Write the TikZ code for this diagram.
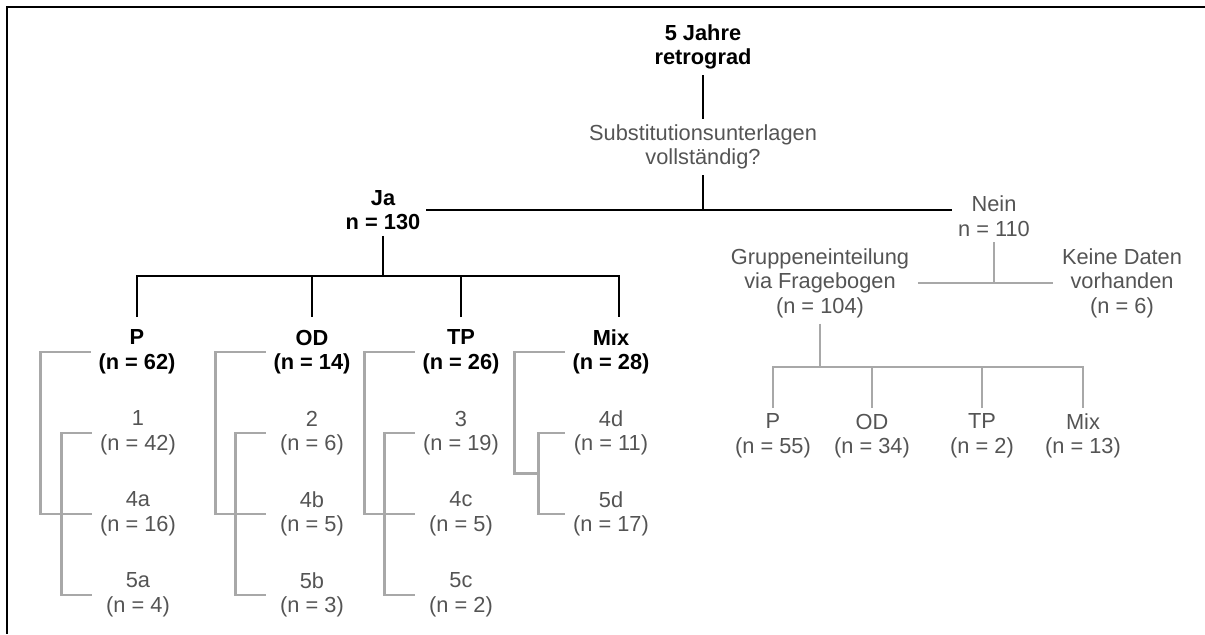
\documentclass[tikz,border=0pt]{standalone}
\usepackage{fontspec}
\setmainfont{Liberation Sans}
\usepackage{xcolor}
\usepackage{tikz}
\usetikzlibrary{positioning, calc}
\definecolor{textgray}{gray}{0.33}
\definecolor{linegray}{gray}{0.66}
\newcommand{\diagfont}{\fontsize{15.5pt}{17.5pt}\selectfont}

\begin{document}
\begin{tikzpicture}[
    x=0.025cm, y=-0.025cm,
    every node/.style={
        align=center,
        inner sep=4pt,
        font=\diagfont
    },
    boldtext/.style={
        font=\diagfont\bfseries,
        text=black
    },
    greytext/.style={text=textgray},
    colhead/.style={boldtext, minimum width=2.3cm, inner ysep=9pt},
    subnode/.style={greytext, minimum width=2.3cm},
    mainline/.style={line width=2pt, black},
    subline/.style={line width=2pt, linegray}
]
\useasboundingbox (0,0) rectangle (1205,634);

% Frame
\draw[line width=2pt] (1205,7) -- (7,7) -- (7,634);

% Top
\node[boldtext] (root) at (703,47) {5 Jahre\\retrograd};
\node[greytext] (question) at (703,147) {Substitutionsunterlagen\\vollständig?};
\node[boldtext] (ja) at (383,210) {Ja\\n = 130};
\node[greytext] (nein) at (994,216) {Nein\\n = 110};

% Ja groups
\node[colhead] (p) at (137,352) {P\\(n = 62)};
\node[colhead] (od) at (312,352) {OD\\(n = 14)};
\node[colhead] (tp) at (461,352) {TP\\(n = 26)};
\node[colhead] (mix) at (611,352) {Mix\\(n = 28)};

\node[subnode] (p1) at (138,433) {1\\(n = 42)};
\node[subnode] (p4a) at (138,514) {4a\\(n = 16)};
\node[subnode] (p5a) at (138,595) {5a\\(n = 4)};

\node[subnode] (od2) at (312,433) {2\\(n = 6)};
\node[subnode] (od4b) at (312,514) {4b\\(n = 5)};
\node[subnode] (od5b) at (312,595) {5b\\(n = 3)};

\node[subnode] (tp3) at (461,433) {3\\(n = 19)};
\node[subnode] (tp4c) at (461,514) {4c\\(n = 5)};
\node[subnode] (tp5c) at (461,595) {5c\\(n = 2)};

\node[subnode] (mix4d) at (611,433) {4d\\(n = 11)};
\node[subnode] (mix5d) at (611,514) {5d\\(n = 17)};

% Nein groups
\node[greytext, inner xsep=6pt] (frage) at (820,283) {Gruppeneinteilung\\via Fragebogen\\(n = 104)};
\node[greytext, inner xsep=6pt] (keine) at (1122,283) {Keine Daten\\vorhanden\\(n = 6)};

\node[greytext] (rp) at (773,436) {P\\(n = 55)};
\node[greytext] (rod) at (872,436) {OD\\(n = 34)};
\node[greytext] (rtp) at (982,436) {TP\\(n = 2)};
\node[greytext] (rmix) at (1083,436) {Mix\\(n = 13)};

% Junctions
\coordinate (jabar) at (383,276);
\coordinate (fragebar) at (823,367);
\coordinate (mixjoin) at ($(mix4d.west)!0.5!(mix5d.west) + (-26,0)$);

% Black tree
\draw[mainline] (root) -- (question);
\draw[mainline] (question.south) -- (question.south |- ja.east);
\draw[mainline] (ja.east) -- (ja.east -| nein.west);
\draw[mainline] (ja.south) -- (jabar);
\draw[mainline] (p.north) -- (p.north |- jabar)
    -- ([xshift=0.2cm]mix.north |- jabar) -- ([xshift=0.2cm]mix.north);
\draw[mainline] (od.north) -- (od.north |- jabar);
\draw[mainline] (tp.north) -- (tp.north |- jabar);

% Grey tree
\draw[subline] (nein.south) -- (nein.south |- frage.east);
\draw[subline] (frage.east) -- (keine.west);
\draw[subline] (frage.south) -- (frage.south |- fragebar);
\draw[subline] (rp.north) -- (rp.north |- fragebar)
    -- (rmix.north |- fragebar) -- (rmix.north);
\draw[subline] (rod.north) -- (rod.north |- fragebar);
\draw[subline] (rtp.north) -- (rtp.north |- fragebar);

% Brackets
\draw[subline] (p.west) -- ++(-50,0) |- (p4a.west);
\draw[subline] (p1.west) -- ++(-30,0) |- (p5a.west);
\draw[subline] (od.west) -- ++(-50,0) |- (od4b.west);
\draw[subline] (od2.west) -- ++(-30,0) |- (od5b.west);
\draw[subline] (tp.west) -- ++(-50,0) |- (tp4c.west);
\draw[subline] (tp3.west) -- ++(-30,0) |- (tp5c.west);
\draw[subline] (mix4d.west) -- ++(-26,0) |- (mix5d.west);
\draw[subline] (mix.west) -- ++(-50,0) |- (mixjoin);
\end{tikzpicture}
\end{document}
